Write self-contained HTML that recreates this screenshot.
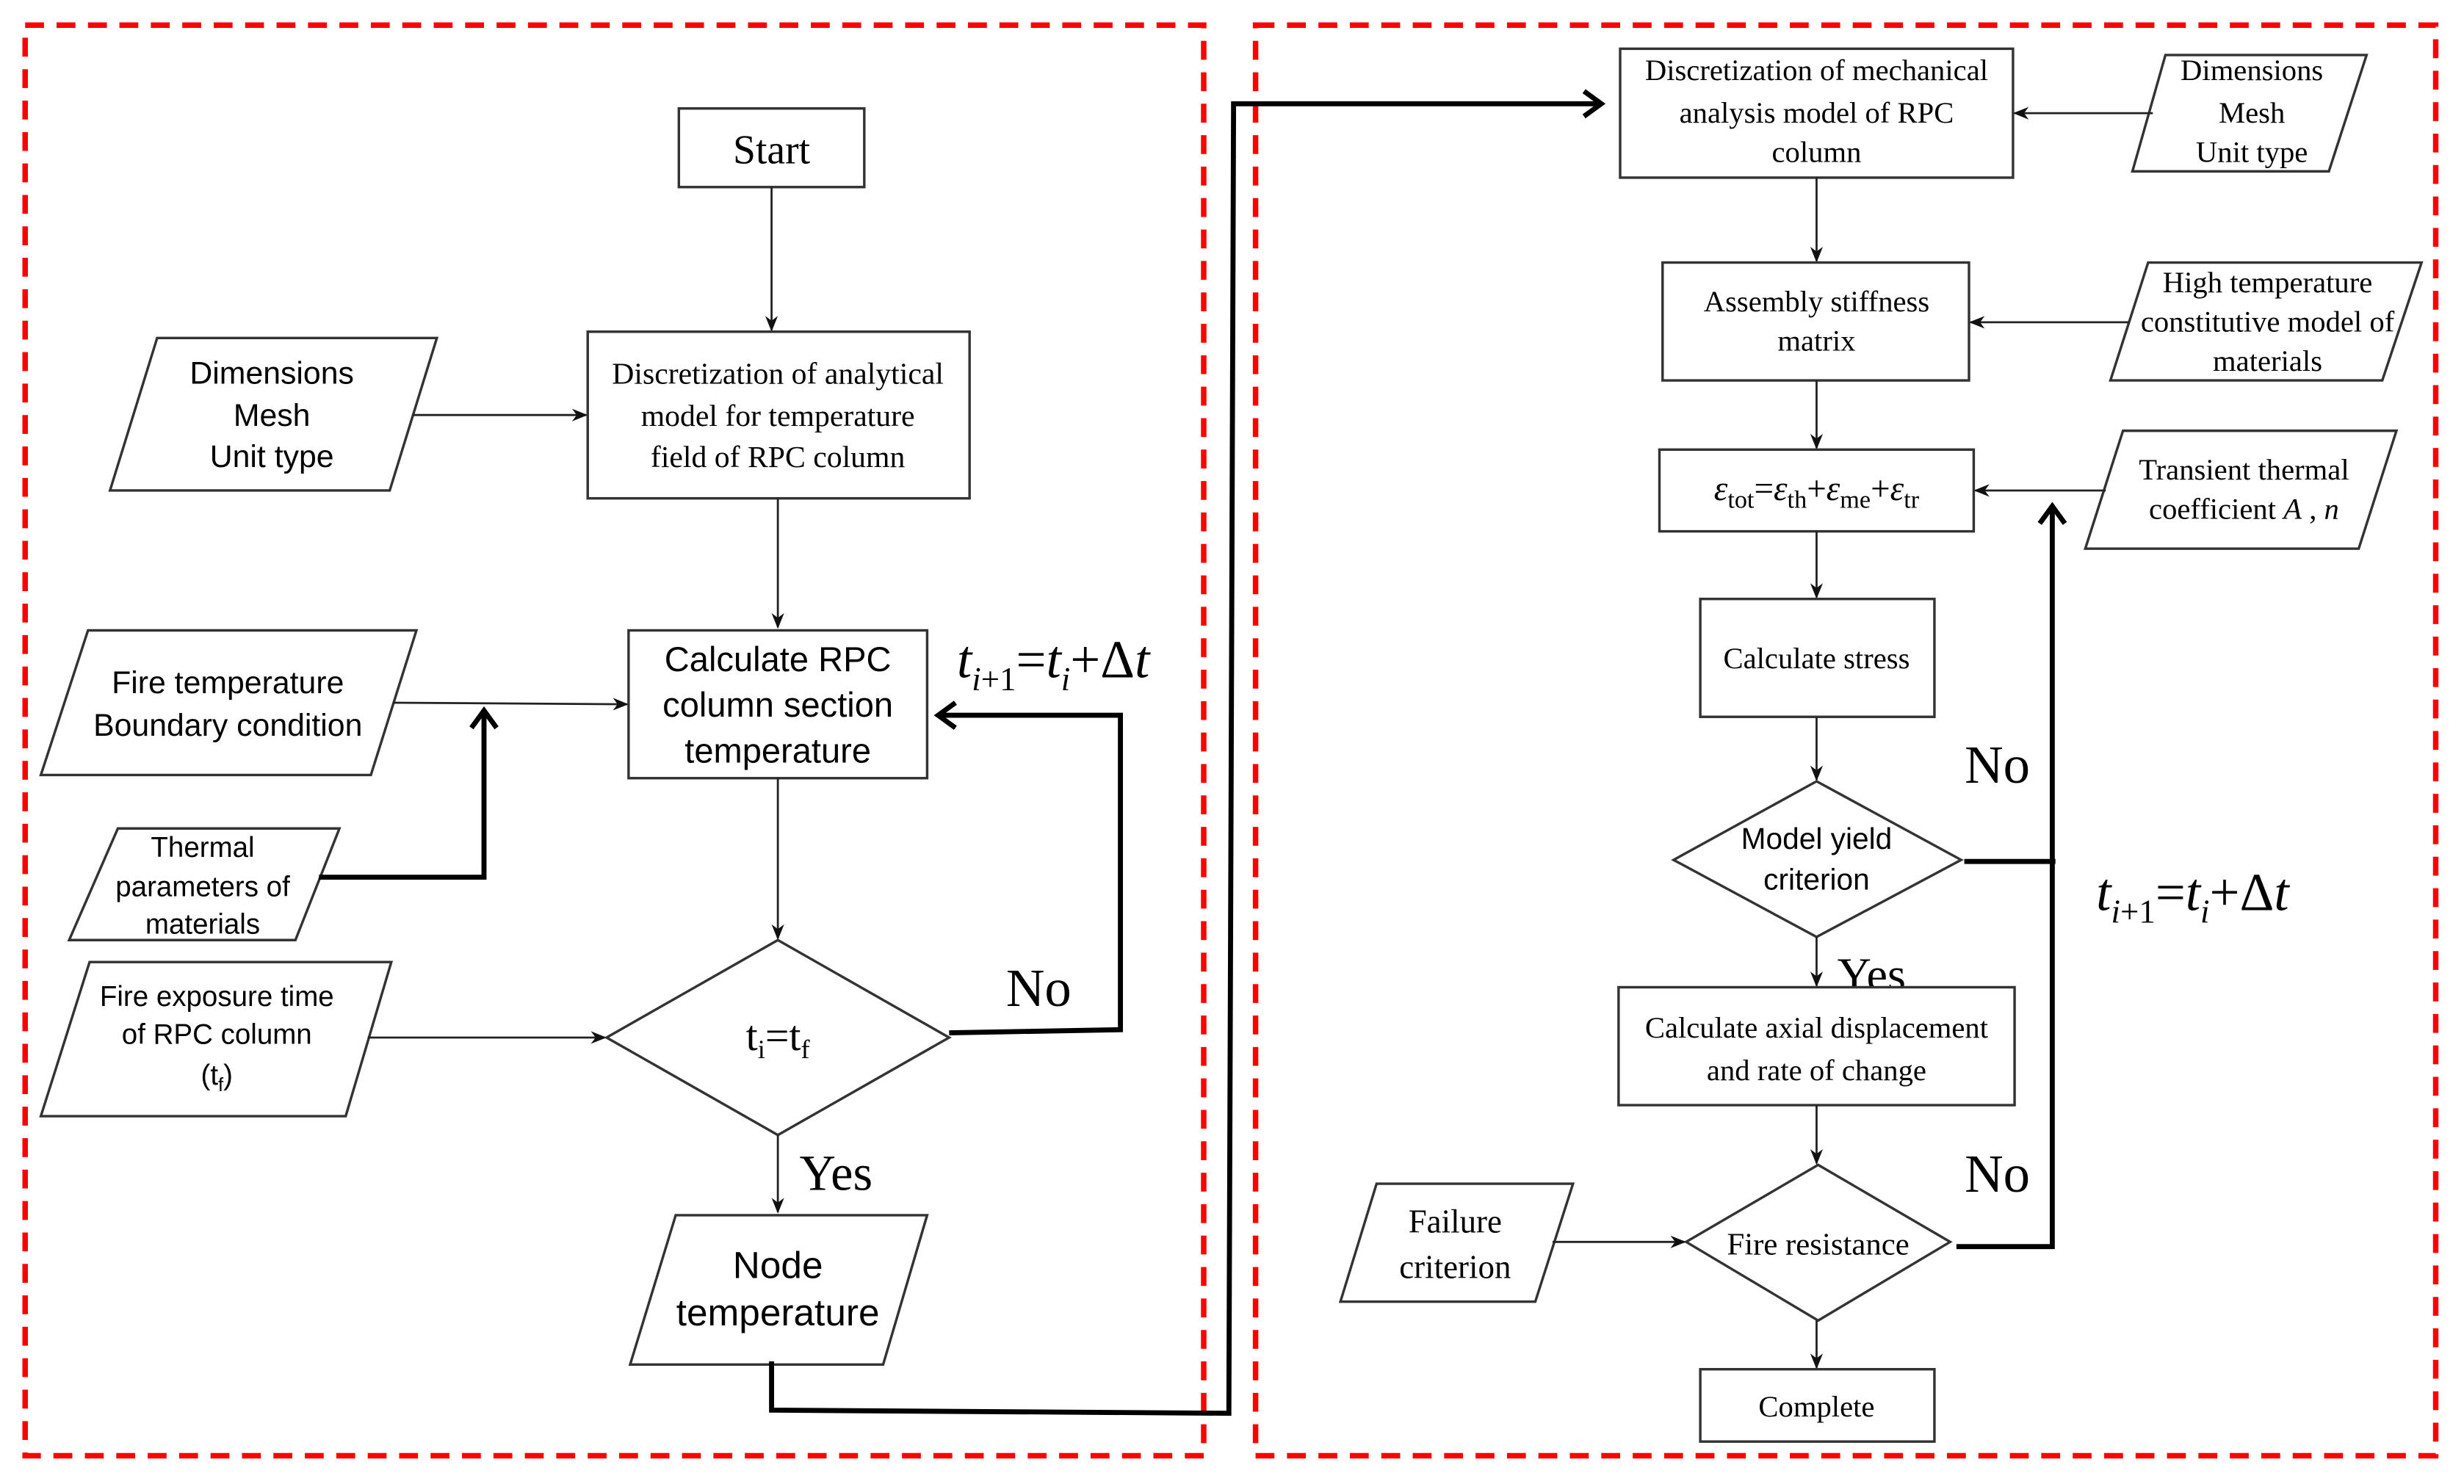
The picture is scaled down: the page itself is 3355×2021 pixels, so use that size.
<!DOCTYPE html>
<html><head><meta charset="utf-8"><style>
html,body{margin:0;padding:0;background:#fff;}
svg{display:block;}
.s{font-family:"Liberation Sans",sans-serif;fill:#000;text-anchor:middle;}
.r{font-family:"Liberation Serif",serif;fill:#000;text-anchor:middle;}
.st{text-anchor:start;}
.b{fill:#fff;stroke:#333;stroke-width:1.6;}
.l{stroke:#222;stroke-width:1.3;fill:none;}
.t{stroke:#000;stroke-width:3.2;fill:none;}
.d{fill:none;stroke:#f00;stroke-width:3.5;stroke-dasharray:12 8;}
</style></head><body>
<svg width="3355" height="2021" viewBox="0 0 1568 944" preserveAspectRatio="none" xmlns="http://www.w3.org/2000/svg">
<defs>
<marker id="a" markerWidth="10" markerHeight="10" refX="9" refY="5" orient="auto" markerUnits="userSpaceOnUse"><path d="M0,1 L10,5 L0,9 L3,5 z" fill="#111"/></marker>
<marker id="o" markerWidth="16" markerHeight="20" refX="13" refY="10" orient="auto" markerUnits="userSpaceOnUse"><path d="M2,2 L13,10 L2,18" fill="none" stroke="#000" stroke-width="3.2"/></marker>
</defs>
<rect x="16" y="16" width="750" height="910" class="d"/>
<rect x="799" y="16" width="751" height="910" class="d"/>

<!-- LEFT -->
<rect x="432" y="69" width="118" height="50" class="b"/>
<text x="491" y="104" class="r" font-size="26">Start</text>
<line x1="491" y1="119" x2="491" y2="210" class="l" marker-end="url(#a)"/>
<rect x="374" y="211" width="243" height="106" class="b"/>
<text class="r" font-size="19.5"><tspan x="495" y="244">Discretization of analytical</tspan><tspan x="495" y="271">model for temperature</tspan><tspan x="495" y="297">field of RPC column</tspan></text>
<polygon points="100,215 278,215 248,312 70,312" class="b"/>
<text class="s" font-size="20"><tspan x="173" y="244">Dimensions</tspan><tspan x="173" y="271">Mesh</tspan><tspan x="173" y="297">Unit type</tspan></text>
<line x1="263" y1="264" x2="373" y2="264" class="l" marker-end="url(#a)"/>
<line x1="495" y1="317" x2="495" y2="399" class="l" marker-end="url(#a)"/>
<rect x="400" y="401" width="190" height="94" class="b"/>
<text class="s" font-size="22"><tspan x="495" y="427">Calculate RPC</tspan><tspan x="495" y="456">column section</tspan><tspan x="495" y="485">temperature</tspan></text>
<polygon points="56,401 265,401 236,493 26,493" class="b"/>
<text class="s" font-size="20"><tspan x="145" y="441">Fire temperature</tspan><tspan x="145" y="468">Boundary condition</tspan></text>
<line x1="250" y1="447" x2="399" y2="448" class="l" marker-end="url(#a)"/>
<polygon points="75,527 216,527 188,598 44,598" class="b"/>
<text class="s" font-size="18"><tspan x="129" y="545">Thermal</tspan><tspan x="129" y="570">parameters of</tspan><tspan x="129" y="594">materials</tspan></text>
<polyline points="203,558 308,558 308,452" class="t" marker-end="url(#o)"/>
<polygon points="57,612 249,612 220,710 26,710" class="b"/>
<text class="s" font-size="18"><tspan x="138" y="640">Fire exposure time</tspan><tspan x="138" y="664">of RPC column</tspan><tspan x="138" y="690">(t<tspan font-size="12" dy="4">f</tspan><tspan dy="-4">)</tspan></tspan></text>
<line x1="234" y1="660" x2="385" y2="660" class="l" marker-end="url(#a)"/>
<line x1="495" y1="495" x2="495" y2="597" class="l" marker-end="url(#a)"/>
<polygon points="495,598 604,660 495,722 386,660" class="b"/>
<text x="495" y="668" class="r" font-size="27">t<tspan font-size="17" dy="5">i</tspan><tspan dy="-5">=t</tspan><tspan font-size="17" dy="5">f</tspan></text>
<polyline points="604,657 713,655 713,455 597,455" class="t" marker-end="url(#o)"/>
<text x="661" y="640" class="r" font-size="34">No</text>
<text x="609" y="431" class="r st" font-size="34" font-style="italic">t<tspan font-size="21" dy="8">i</tspan><tspan font-size="21" font-style="normal">+1</tspan><tspan dy="-8" font-style="normal">=</tspan>t<tspan font-size="21" dy="8">i</tspan><tspan dy="-8" font-style="normal">+Δ</tspan>t</text>
<line x1="495" y1="722" x2="495" y2="771" class="l" marker-end="url(#a)"/>
<text x="532" y="757" class="r" font-size="32">Yes</text>
<polygon points="430,773 590,773 562,868 401,868" class="b"/>
<text class="s" font-size="24"><tspan x="495" y="813">Node</tspan><tspan x="495" y="843">temperature</tspan></text>
<polyline points="491,866 491,897 782,899 785,66 1019,66" class="t" marker-end="url(#o)"/>

<!-- RIGHT -->
<rect x="1031" y="31" width="250" height="82" class="b"/>
<text class="r" font-size="19"><tspan x="1156" y="51">Discretization of mechanical</tspan><tspan x="1156" y="78">analysis model of RPC</tspan><tspan x="1156" y="103">column</tspan></text>
<polygon points="1378,35 1506,35 1482,109 1357,109" class="b"/>
<text class="r" font-size="19"><tspan x="1433" y="51">Dimensions</tspan><tspan x="1433" y="78">Mesh</tspan><tspan x="1433" y="103">Unit type</tspan></text>
<line x1="1370" y1="72" x2="1282" y2="72" class="l" marker-end="url(#a)"/>
<line x1="1156" y1="113" x2="1156" y2="166" class="l" marker-end="url(#a)"/>
<rect x="1058" y="167" width="195" height="75" class="b"/>
<text class="r" font-size="19"><tspan x="1156" y="198">Assembly stiffness</tspan><tspan x="1156" y="223">matrix</tspan></text>
<polygon points="1367,167 1541,167 1516,242 1343,242" class="b"/>
<text class="r" font-size="19"><tspan x="1443" y="186">High temperature</tspan><tspan x="1443" y="211">constitutive model of</tspan><tspan x="1443" y="236">materials</tspan></text>
<line x1="1355" y1="205" x2="1254" y2="205" class="l" marker-end="url(#a)"/>
<line x1="1156" y1="242" x2="1156" y2="285" class="l" marker-end="url(#a)"/>
<rect x="1056" y="286" width="200" height="52" class="b"/>
<text x="1156" y="318" class="r" font-size="22"><tspan font-style="italic">ε</tspan><tspan font-size="16" dy="5">tot</tspan><tspan dy="-5">=</tspan><tspan font-style="italic">ε</tspan><tspan font-size="16" dy="5">th</tspan><tspan dy="-5">+</tspan><tspan font-style="italic">ε</tspan><tspan font-size="16" dy="5">me</tspan><tspan dy="-5">+</tspan><tspan font-style="italic">ε</tspan><tspan font-size="16" dy="5">tr</tspan></text>
<polygon points="1351,274 1525,274 1501,349 1327,349" class="b"/>
<text class="r" font-size="19"><tspan x="1428" y="305">Transient thermal</tspan><tspan x="1428" y="330">coefficient <tspan font-style="italic">A</tspan> , <tspan font-style="italic">n</tspan></tspan></text>
<line x1="1340" y1="312" x2="1257" y2="312" class="l" marker-end="url(#a)"/>
<line x1="1156" y1="338" x2="1156" y2="380" class="l" marker-end="url(#a)"/>
<rect x="1082" y="381" width="149" height="75" class="b"/>
<text x="1156" y="425" class="r" font-size="19">Calculate stress</text>
<line x1="1156" y1="456" x2="1156" y2="496" class="l" marker-end="url(#a)"/>
<polygon points="1156,497 1248,547 1156,596 1065,547" class="b"/>
<text class="s" font-size="19"><tspan x="1156" y="540">Model yield</tspan><tspan x="1156" y="566">criterion</tspan></text>
<line x1="1250" y1="548" x2="1308" y2="548" class="t"/>
<polyline points="1245,793 1306,793 1306,322" class="t" marker-end="url(#o)"/>
<text x="1271" y="498" class="r" font-size="34">No</text>
<text x="1334" y="579" class="r st" font-size="34" font-style="italic">t<tspan font-size="21" dy="8">i</tspan><tspan font-size="21" font-style="normal">+1</tspan><tspan dy="-8" font-style="normal">=</tspan>t<tspan font-size="21" dy="8">i</tspan><tspan dy="-8" font-style="normal">+Δ</tspan>t</text>
<line x1="1156" y1="596" x2="1156" y2="627" class="l" marker-end="url(#a)"/>
<text x="1191" y="630" class="r" font-size="30">Yes</text>
<rect x="1030" y="628" width="252" height="75" class="b"/>
<text class="r" font-size="19"><tspan x="1156" y="660">Calculate axial displacement</tspan><tspan x="1156" y="687">and rate of change</tspan></text>
<line x1="1156" y1="703" x2="1156" y2="740" class="l" marker-end="url(#a)"/>
<polygon points="1157,741 1241,790 1157,840 1073,790" class="b"/>
<text x="1157" y="798" class="r" font-size="20">Fire resistance</text>
<text x="1271" y="758" class="r" font-size="34">No</text>
<polygon points="876,753 1001,753 977,828 853,828" class="b"/>
<text class="r" font-size="21"><tspan x="926" y="784">Failure</tspan><tspan x="926" y="813">criterion</tspan></text>
<line x1="988" y1="790" x2="1072" y2="790" class="l" marker-end="url(#a)"/>
<line x1="1156" y1="840" x2="1156" y2="870" class="l" marker-end="url(#a)"/>
<rect x="1082" y="871" width="149" height="46" class="b"/>
<text x="1156" y="901" class="r" font-size="19">Complete</text>
</svg>
</body></html>
